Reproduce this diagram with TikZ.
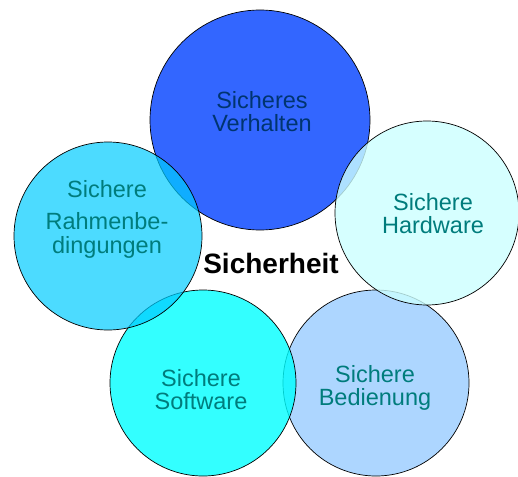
\documentclass[tikz,border=0pt]{standalone}
\usepackage{fontspec}
\setmainfont{Liberation Sans}
\usepackage{xcolor}
\usepackage{tikz}

\definecolor{cverh}{RGB}{51,102,255}
\definecolor{chard}{RGB}{204,255,255}
\definecolor{crahm}{RGB}{0,204,255}
\definecolor{csoft}{RGB}{0,255,255}
\definecolor{cbed}{RGB}{153,204,255}
\definecolor{tteal}{RGB}{0,124,124}
\definecolor{tnavy}{RGB}{0,52,112}

\begin{document}
\begin{tikzpicture}[x=1pt, y=-1pt,
  c/.style={circle,draw=black,line width=0.7pt,inner sep=0pt,outer sep=0pt,fill opacity=0.8},
  t/.style={anchor=north,align=center,inner sep=0pt,text=tteal,
    font=\fontsize{23.5}{23.5}\selectfont}]
\useasboundingbox (0,0) rectangle (518,476);
% circles, back to front
\node[c, fill=cverh, fill opacity=1, minimum size=220] (verh) at (260,120) {};
\node[c, fill=cbed, minimum size=186] (bed) at (376,383) {};
\node[c, fill=csoft, minimum size=186] (soft) at (203,383) {};
\node[c, fill=crahm, fill opacity=0.7, minimum size=188] (rahm) at (108,236) {};
\node[c, fill=chard, minimum size=184] (hard) at (427,213) {};
% labels
\node[t, text=tnavy] (tverh) at (262,91) {Sicheres\\Verhalten};
\node[t] (thard) at (433,193) {Sichere\\Hardware};
\node[t] (trahm) at (107,180) {Sichere\\[9pt]Rahmenbe-\\dingungen};
\node[t] (tsoft) at (201,369) {Sichere\\Software};
\node[t] (tbed) at (375,365) {Sichere\\Bedienung};
\node[anchor=base, inner sep=0pt, font=\fontsize{28}{30}\selectfont\bfseries] (sich) at (271,273) {Sicherheit};
\end{tikzpicture}
\end{document}
